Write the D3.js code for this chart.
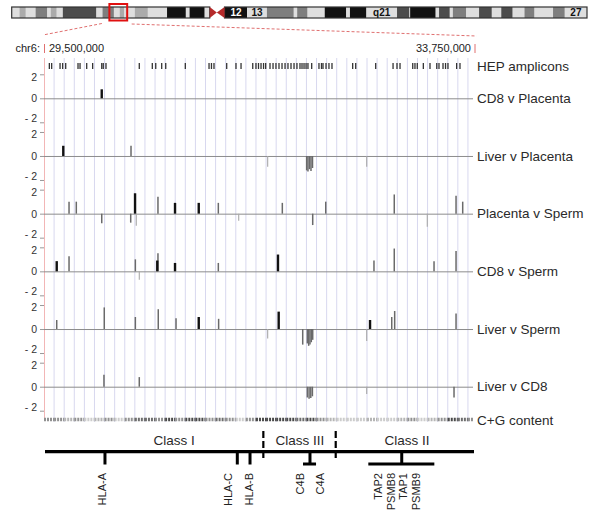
<!DOCTYPE html>
<html>
<head>
<meta charset="utf-8">
<script src="https://cdn.jsdelivr.net/npm/d3@7"></script>
<style>
  body { margin: 0; background: #fff; }
  svg { display: block; font-family: Arial, "Liberation Sans", sans-serif; }
</style>
</head>
<body>
<script>
// ---- data (positions in Mb on chr6) ----
const region = [29.5, 33.75];
const trackNames = ["CD8 v Placenta", "Liver v Placenta", "Placenta v Sperm", "CD8 v Sperm", "Liver v Sperm", "Liver v CD8"];
const yTicks = [-2, 0, 2];

// [position Mb, log ratio, significance 2=high 1=mid 0=low]
const cd8VPlacenta = [[30.072, 0.75, 2]];
const liverVPlacenta = [
  [29.691, 0.85, 2], [30.362, 0.85, 1], [31.716, -0.9, 0],
  [32.102, -1.2, 1], [32.115, -1.3, 1], [32.130, -1.1, 1], [32.145, -1.25, 1], [32.160, -1.0, 1],
  [32.697, -0.9, 0]
];
const placentaVSperm = [
  [29.748, 1.0, 1], [29.820, 1.0, 1], [30.072, -0.8, 1], [30.359, -0.75, 1], [30.402, 1.7, 2],
  [30.414, -1.0, 0], [30.629, 1.4, 1], [30.798, 0.9, 2], [31.033, 0.9, 2], [31.227, 0.9, 1],
  [31.429, -0.6, 0], [31.861, 0.9, 1], [32.162, -0.95, 1], [32.291, 1.0, 1], [32.970, 1.6, 1],
  [33.297, -1.1, 0], [33.582, 1.5, 1], [33.648, 1.0, 1]
];
const cd8VSperm = [
  [29.626, 0.85, 2], [29.748, 1.25, 1], [30.405, 1.0, 1], [30.444, -0.7, 0], [30.629, 1.5, 1],
  [30.622, 0.9, 2], [30.798, 0.7, 2], [31.227, 0.7, 1], [31.818, 1.4, 2], [32.769, 0.9, 1],
  [32.970, 1.9, 1], [33.364, 0.85, 1], [33.582, 1.7, 1]
];
const liverVSperm = [
  [29.626, 0.75, 1], [30.097, 1.8, 1], [30.405, 1.0, 1], [30.632, 1.65, 1], [30.808, 0.9, 1],
  [31.033, 1.0, 2], [31.230, 0.85, 1], [31.716, -0.8, 0], [31.825, 1.45, 2], [32.063, -1.3, 1],
  [32.109, -1.2, 1], [32.122, -1.4, 1], [32.135, -1.3, 1], [32.148, -1.1, 1], [32.162, -0.9, 1],
  [32.697, -1.0, 0], [32.730, 0.75, 2], [32.945, 1.0, 1], [32.974, 1.5, 1], [33.582, 1.3, 1]
];
const liverVCD8 = [
  [30.094, 1.0, 1], [30.444, 0.8, 1],
  [32.109, -0.9, 1], [32.126, -1.0, 1], [32.143, -0.95, 1], [32.159, -0.8, 1],
  [32.697, -0.6, 0], [33.562, -0.9, 1]
];
const trackData = [cd8VPlacenta, liverVPlacenta, placentaVSperm, cd8VSperm, liverVSperm, liverVCD8];

const hepAmplicons = [
  29.553, 29.576, 29.659, 29.685, 29.715, 29.837, 29.857, 29.923, 29.982, 30.072, 30.087, 30.114,
  30.444, 30.573, 30.607, 30.666, 30.706, 30.900, 31.135, 31.159, 31.184, 31.310, 31.402, 31.452,
  31.568, 31.600, 31.625, 31.650, 31.675, 31.696, 31.739, 31.769, 31.798, 31.828, 31.858, 31.888,
  31.917, 31.947, 31.977, 32.006, 32.036, 32.056, 32.076, 32.096, 32.115, 32.152, 32.224, 32.249,
  32.264, 32.294, 32.323, 32.353, 32.558, 32.588, 32.786, 32.958, 32.997, 33.027, 33.153, 33.175,
  33.198, 33.258, 33.324, 33.391, 33.413, 33.453, 33.478, 33.502, 33.588, 33.621
];

// C+G content (%) in 100 kb windows from 29.5 Mb
const gcContent = [
  45, 45, 42, 45, 40, 42, 45, 40, 45, 48, 48, 45, 51, 45, 51, 51, 45, 48, 45, 40,
  45, 51, 51, 51, 51, 48, 51, 45, 42, 40, 40, 40, 42, 40, 40, 42, 45, 40, 42, 45,
  51, 48, 45
];

// chr6 cytobands [name, start Mb, end Mb, stain]
const cytobands = [
  ["p25.3", 0, 2.3, "gneg"], ["p25.2", 2.3, 4.2, "gpos25"], ["p25.1", 4.2, 7.1, "gneg"],
  ["p24.3", 7.1, 10.6, "gpos50"], ["p24.2", 10.6, 11.6, "gneg"], ["p24.1", 11.6, 13.4, "gpos25"],
  ["p23", 13.4, 15.2, "gneg"], ["p22.3", 15.2, 25.2, "gpos75"], ["p22.2", 25.2, 27.0, "gneg"],
  ["p22.1", 27.0, 30.4, "gpos50"], ["p21.33", 30.4, 32.1, "gneg"], ["p21.32", 32.1, 33.5, "gpos25"],
  ["p21.31", 33.5, 36.6, "gneg"], ["p21.2", 36.6, 40.5, "gpos25"], ["p21.1", 40.5, 46.2, "gneg"],
  ["p12.3", 46.2, 51.8, "gpos100"], ["p12.2", 51.8, 52.9, "gneg"], ["p12.1", 52.9, 57.4, "gpos100"],
  ["p11.2", 57.4, 58.9, "gneg"], ["p11.1", 58.9, 61.0, "acen"], ["q11.1", 61.0, 63.3, "acen"],
  ["q11.2", 63.3, 63.4, "gneg"], ["q12", 63.4, 70.0, "gpos100"], ["q13", 70.0, 75.9, "gneg"],
  ["q14.1", 75.9, 83.9, "gpos50"], ["q14.2", 83.9, 84.9, "gneg"], ["q14.3", 84.9, 88.0, "gpos50"],
  ["q15", 88.0, 93.1, "gneg"], ["q16.1", 93.1, 99.5, "gpos100"], ["q16.2", 99.5, 100.6, "gneg"],
  ["q16.3", 100.6, 105.5, "gpos100"], ["q21", 105.5, 114.6, "gneg"], ["q22.1", 114.6, 118.3, "gpos75"],
  ["q22.2", 118.3, 118.5, "gneg"], ["q22.31", 118.5, 126.1, "gpos100"], ["q22.32", 126.1, 127.1, "gneg"],
  ["q22.33", 127.1, 130.3, "gpos75"], ["q23.1", 130.3, 131.2, "gneg"], ["q23.2", 131.2, 135.2, "gpos50"],
  ["q23.3", 135.2, 139.0, "gneg"], ["q24.1", 139.0, 142.8, "gpos75"], ["q24.2", 142.8, 145.6, "gneg"],
  ["q24.3", 145.6, 149.0, "gpos75"], ["q25.1", 149.0, 152.5, "gneg"], ["q25.2", 152.5, 155.5, "gpos50"],
  ["q25.3", 155.5, 161.0, "gneg"], ["q26", 161.0, 164.5, "gpos50"], ["q27", 164.5, 171.1, "gneg"]
];
const bandLabels = [["q12", "12"], ["q13", "13"], ["q21", "q21"], ["q27", "27"]];

const genes = [["HLA-A", 30.104], ["HLA-C", 31.415], ["HLA-B", 31.541]];
const geneClusters = [
  { at: 32.135, from: 32.066, to: 32.195, names: ["C4B", "C4A"] },
  { at: 33.044, from: 32.713, to: 33.367, names: ["TAP2", "PSMB8", "TAP1", "PSMB9"] }
];
const classNames = ["Class I", "Class III", "Class II"];
const classCentres = [30.79, 32.036, 33.096];
const classBounds = [31.673, 32.39];

// ---- layout ----
const W = 600, H = 515;
const svg = d3.select("body").append("svg").attr("width", W).attr("height", H);

const x = d3.scaleLinear().domain(region).range([44, 473]);
const trackY = d3.scalePoint().domain(trackNames).range([98.3, 386.7]);
const v = d3.scaleLinear().domain([-2, 2]).range([24, -24]);
const sigColor = ["#a8a8a8", "#6a6a6a", "#111"];
const sigWidth = [1.1, 1.5, 2.4];

// ideogram
const ideoX = d3.scaleLinear().domain([0, 171.1]).range([11.7, 587]);
const stainColor = { gneg: "#dedede", gpos25: "#ababab", gpos50: "#7e7e7e", gpos75: "#4c4c4c", gpos100: "#111" };
const ideo = svg.append("g");
ideo.selectAll("rect.band").data(cytobands.filter(d => d[3] !== "acen")).join("rect")
  .attr("x", d => ideoX(d[1])).attr("width", d => ideoX(d[2]) - ideoX(d[1]))
  .attr("y", 7).attr("height", 11).attr("fill", d => stainColor[d[3]]);
ideo.append("rect").attr("x", ideoX(0)).attr("y", 7).attr("width", ideoX(58.9) - ideoX(0)).attr("height", 11)
  .attr("fill", "none").attr("stroke", "#333").attr("stroke-width", 1.2);
ideo.append("rect").attr("x", ideoX(63.3)).attr("y", 7).attr("width", ideoX(171.1) - ideoX(63.3)).attr("height", 11)
  .attr("fill", "none").attr("stroke", "#333").attr("stroke-width", 1.2);
const acen = cytobands.filter(d => d[3] === "acen");
ideo.selectAll("path.acen").data(acen).join("path")
  .attr("d", (d, i) => {
    const outer = i === 0 ? ideoX(d[1]) : ideoX(d[2]);
    const inner = i === 0 ? ideoX(d[2]) : ideoX(d[1]);
    return `M${outer},7L${inner},12.5L${outer},18Z`;
  })
  .attr("fill", "#b52a2a");
ideo.selectAll("text").data(bandLabels).join("text")
  .attr("x", d => { const b = cytobands.find(c => c[0] === d[0]); return ideoX((b[1] + b[2]) / 2); })
  .attr("y", 16)
  .attr("text-anchor", "middle")
  .attr("font-size", 10).attr("font-weight", "bold")
  .attr("fill", d => cytobands.find(c => c[0] === d[0])[3] === "gpos100" ? "#fff" : "#111")
  .text(d => d[1]);

// highlight box and zoom lines
svg.append("rect").attr("x", ideoX(region[0]) - 1.5).attr("y", 4).attr("width", ideoX(region[1]) - ideoX(region[0]) + 3.5)
  .attr("height", 16.5).attr("fill", "none").attr("stroke", "#e01010").attr("stroke-width", 2);
svg.append("line").attr("x1", ideoX(region[0]) - 9).attr("y1", 23.5).attr("x2", x(region[0]) - 1).attr("y2", 35)
  .attr("stroke", "#e07070").attr("stroke-dasharray", "3,2");
svg.append("line").attr("x1", ideoX(region[1]) + 6.5).attr("y1", 24).attr("x2", x(region[1]) + 3.5).attr("y2", 36)
  .attr("stroke", "#e07070").attr("stroke-dasharray", "3,2");

// coordinate ruler
const fmt = d3.format(",");
svg.append("text").attr("x", 15.5).attr("y", 52).attr("font-size", 11).attr("fill", "#222").text("chr6:");
svg.append("line").attr("x1", x(region[0]) + 0.5).attr("x2", x(region[0]) + 0.5).attr("y1", 44).attr("y2", 53)
  .attr("stroke", "#e07070");
svg.append("line").attr("x1", x(region[1]) + 2).attr("x2", x(region[1]) + 2).attr("y1", 44).attr("y2", 53)
  .attr("stroke", "#e07070");
svg.append("text").attr("x", x(region[0]) + 5).attr("y", 52).attr("font-size", 11).attr("fill", "#222")
  .text(fmt(region[0] * 1e6));
svg.append("text").attr("x", x(region[1]) - 2).attr("y", 52).attr("font-size", 11).attr("fill", "#222")
  .attr("text-anchor", "end").text(fmt(region[1] * 1e6));

// vertical 100 kb grid
svg.append("g").selectAll("line").data(d3.range(29.6, 33.74, 0.1)).join("line")
  .attr("x1", d => x(d)).attr("x2", d => x(d)).attr("y1", 58).attr("y2", 422)
  .attr("stroke", "#d8d8ef").attr("stroke-width", 1);
svg.append("line").attr("x1", 44.5).attr("x2", 44.5).attr("y1", 58).attr("y2", 418)
  .attr("stroke", "#f2b6b6");

// HEP amplicons
svg.append("g").selectAll("line").data(hepAmplicons).join("line")
  .attr("x1", d => x(d)).attr("x2", d => x(d)).attr("y1", 63).attr("y2", 69)
  .attr("stroke", "#333").attr("stroke-width", 1.3);

// tracks
const labelFont = 13.5;
trackNames.forEach((name, i) => {
  const g = svg.append("g").attr("transform", `translate(0,${trackY(name)})`);
  g.append("g").attr("transform", "translate(44,0)")
    .call(d3.axisLeft(v).tickValues(yTicks).tickSize(4).tickPadding(3)
      .tickFormat(d => d < 0 ? "- " + (-d) : d))
    .call(a => a.select(".domain").remove())
    .call(a => a.selectAll("line").attr("stroke", "#999"))
    .call(a => a.selectAll("text").attr("font-size", 10.5).attr("fill", "#333").attr("font-family", null)
      .attr("dy", d => d < 0 ? "-0.05em" : d > 0 ? "0.55em" : "0.32em"));
  g.append("line").attr("x1", 44).attr("x2", 473).attr("y1", 0.5).attr("y2", 0.5)
    .attr("stroke", "#8c8c8c");
  g.selectAll("line.bar").data(trackData[i].slice().sort((a, b) => a[2] - b[2] || Math.abs(b[1]) - Math.abs(a[1]))).join("line")
    .attr("class", "bar")
    .attr("x1", d => x(d[0])).attr("x2", d => x(d[0]))
    .attr("y1", v(0)).attr("y2", d => v(d[1]))
    .attr("stroke", d => sigColor[d[2]]).attr("stroke-width", d => sigWidth[d[2]]);
  svg.append("text").attr("x", 477).attr("y", trackY(name)).attr("dy", "0.35em")
    .attr("font-size", labelFont).attr("fill", "#2a2a2a").text(name);
});
svg.append("text").attr("x", 477).attr("y", 66).attr("dy", "0.35em")
  .attr("font-size", labelFont).attr("fill", "#2a2a2a").text("HEP amplicons");

// C+G content
const gcColor = d3.scaleLinear().domain([38, 52]).range(["#e4e4e4", "#3e3e3e"]);
svg.append("g").selectAll("line").data(gcContent).join("line")
  .attr("x1", (d, i) => x(region[0] + i * 0.1))
  .attr("x2", (d, i) => x(Math.min(region[1], region[0] + (i + 1) * 0.1)))
  .attr("y1", 419.5).attr("y2", 419.5)
  .attr("stroke", d => gcColor(d)).attr("stroke-width", 3.5).attr("stroke-dasharray", "2,1");
svg.append("text").attr("x", 477).attr("y", 420).attr("dy", "0.35em")
  .attr("font-size", labelFont).attr("fill", "#2a2a2a").text("C+G content");

// MHC gene map
const map = svg.append("g");
const baseY = 451.7, tickEnd = 464.5, labelTop = 473;
map.append("line").attr("x1", 45).attr("x2", 474).attr("y1", baseY).attr("y2", baseY)
  .attr("stroke", "#000").attr("stroke-width", 3.2);
map.selectAll("line.sep").data(classBounds).join("line").attr("class", "sep")
  .attr("x1", d => x(d)).attr("x2", d => x(d)).attr("y1", 431).attr("y2", 459)
  .attr("stroke", "#000").attr("stroke-width", 2.2).attr("stroke-dasharray", "7,3");
map.selectAll("text.cls").data(classNames).join("text").attr("class", "cls")
  .attr("x", (d, i) => x(classCentres[i])).attr("y", 445)
  .attr("text-anchor", "middle").attr("font-size", labelFont).attr("fill", "#2a2a2a").text(d => d);

const geneShift = { "HLA-A": -2.5, "HLA-C": -9, "HLA-B": -1 };
map.selectAll("line.gene").data(genes).join("line").attr("class", "gene")
  .attr("x1", d => x(d[1])).attr("x2", d => x(d[1])).attr("y1", baseY).attr("y2", tickEnd)
  .attr("stroke", "#000").attr("stroke-width", 3);
const rotLabel = (sel) => sel
  .attr("text-anchor", "end").attr("dy", "0.35em").attr("font-size", 11).attr("fill", "#222");
map.selectAll("text.gene").data(genes).join("text").attr("class", "gene")
  .attr("transform", d => `translate(${x(d[1]) + geneShift[d[0]]},${labelTop}) rotate(-90)`)
  .call(rotLabel).text(d => d[0]);

const clusterGap = [20, 12.6], clusterShift = [0, -4.5];
geneClusters.forEach((c, ci) => {
  map.append("line").attr("x1", x(c.at)).attr("x2", x(c.at)).attr("y1", baseY).attr("y2", tickEnd)
    .attr("stroke", "#000").attr("stroke-width", 3);
  map.append("line").attr("x1", x(c.from)).attr("x2", x(c.to)).attr("y1", tickEnd - 0.5).attr("y2", tickEnd - 0.5)
    .attr("stroke", "#000").attr("stroke-width", 3);
  const n = c.names.length;
  map.selectAll(null).data(c.names).join("text")
    .attr("transform", (d, i) => `translate(${x(c.at) + clusterShift[ci] + (i - (n - 1) / 2) * clusterGap[ci]},${labelTop}) rotate(-90)`)
    .call(rotLabel).text(d => d);
});
</script>
</body>
</html>
